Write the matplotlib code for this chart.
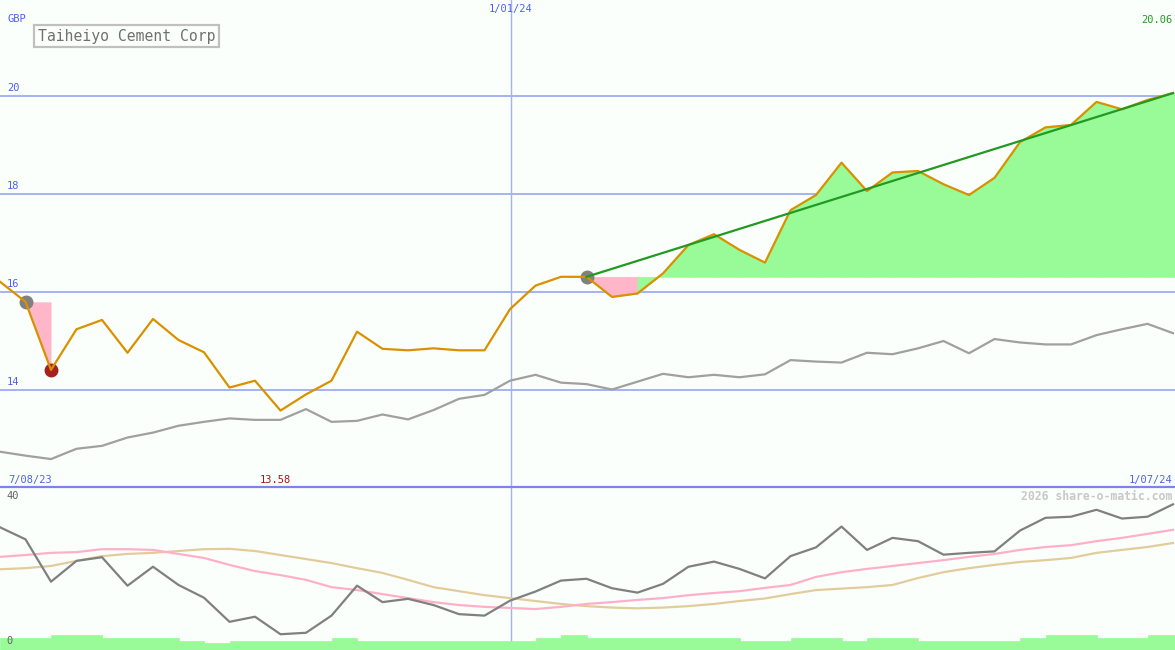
import matplotlib
matplotlib.use('Agg')
import matplotlib.pyplot as plt
from matplotlib.lines import Line2D
import numpy as np

# weekly closing price (GBP)
price = [16.21, 15.80, 14.41, 15.24, 15.43, 14.76, 15.45, 15.02, 14.77, 14.05,
         14.19, 13.58, 13.91, 14.19, 15.19, 14.84, 14.81, 14.85, 14.81, 14.81,
         15.65, 16.13, 16.31, 16.31, 15.90, 15.97, 16.38, 16.96, 17.18, 16.86,
         16.60, 17.67, 17.98, 18.64, 18.06, 18.44, 18.47, 18.20, 17.98, 18.33,
         19.06, 19.36, 19.41, 19.88, 19.73, 19.92, 20.06]
# slow average of the price (grey line, upper panel)
price_avg = [12.74, 12.66, 12.59, 12.80, 12.86, 13.03, 13.13, 13.27, 13.35, 13.42,
             13.39, 13.39, 13.61, 13.35, 13.37, 13.50, 13.40, 13.59, 13.82, 13.90,
             14.19, 14.31, 14.15, 14.12, 14.01, 14.17, 14.33, 14.26, 14.31, 14.26,
             14.32, 14.61, 14.58, 14.56, 14.76, 14.73, 14.85, 15.00, 14.75, 15.04,
             14.97, 14.93, 14.93, 15.12, 15.24, 15.35, 15.16]
# oscillator (lower panel)
osc = [32.8, 29.5, 17.9, 23.6, 24.6, 16.8, 22.0, 17.0, 13.5, 6.9,
       8.3, 3.5, 3.9, 8.6, 16.8, 12.3, 13.2, 11.5, 9.0, 8.6,
       12.7, 15.2, 18.2, 18.7, 16.1, 14.9, 17.3, 22.0, 23.4, 21.4,
       18.8, 24.9, 27.3, 33.0, 26.6, 29.9, 29.0, 25.3, 25.8, 26.2,
       31.9, 35.4, 35.7, 37.6, 35.2, 35.7, 39.1]
osc_fast = [24.7, 25.2, 25.8, 26.0, 26.8, 26.8, 26.6, 25.5, 24.4, 22.5,
            20.8, 19.7, 18.4, 16.4, 15.6, 14.5, 13.4, 12.3, 11.5, 11.0,
            10.7, 10.4, 11.0, 11.8, 12.3, 12.9, 13.4, 14.2, 14.8, 15.3,
            16.2, 17.0, 19.2, 20.5, 21.4, 22.2, 23.0, 23.8, 24.7, 25.5,
            26.6, 27.4, 27.9, 29.0, 29.9, 31.0, 32.1]
osc_slow = [21.3, 21.6, 22.2, 23.6, 24.9, 25.5, 25.8, 26.3, 26.8, 26.9,
            26.3, 25.2, 24.1, 23.0, 21.6, 20.3, 18.4, 16.4, 15.3, 14.2,
            13.4, 12.6, 11.8, 11.2, 10.8, 10.6, 10.8, 11.2, 11.8, 12.6,
            13.3, 14.5, 15.6, 16.0, 16.4, 17.0, 18.9, 20.5, 21.6, 22.5,
            23.3, 23.8, 24.4, 25.8, 26.6, 27.4, 28.5]
volume = [12.3, 12.3, 15, 15, 12.3, 12.3, 12.3, 9, 6.7, 9,
          9, 9, 9, 12.3, 9, 9, 9, 9, 9, 9,
          9, 12.3, 15, 12.3, 12.3, 12.3, 12.3, 12.3, 12.3, 9,
          9, 12.3, 12.3, 9, 12.3, 12.3, 9, 9, 9, 9,
          12.3, 15, 15, 12.3, 12.3, 15, 15]

price_ticks = [20, 18, 16, 14]
company = 'Taiheiyo Cement Corp'
start_label, mid_label, end_label = '7/08/23', '1/01/24', '1/07/24'
mid_week = 20.04
low_idx, drop_idx, base_idx = 11, 2, 23

bg = '#fbfffb'
green = '#98fb98'
pink = '#ffb6c8'
mono = 'DejaVu Sans Mono'

W, H = 1175, 650
fig = plt.figure(figsize=(W / 100, H / 100), dpi=100, facecolor=bg)
split = 487
ax = fig.add_axes([0, (H - split) / H, 1, split / H])
axl = fig.add_axes([0, 0, 1, (H - split) / H])
x = np.arange(len(price))
xmax = W / 25.5

# ---- upper panel
ax.set_xlim(0, xmax)
ax.set_ylim(12.02, 21.96)
ax.axis('off')
for t in price_ticks:
    ax.axhline(t, color='#a4b2f2', lw=1.4, zorder=1)
    ax.text(0.006, t + 0.06, str(t), transform=ax.get_yaxis_transform(),
            fontsize=7.5, family=mono, color='#5060f0', va='bottom')
ax.axvline(mid_week, color='#a8b0e4', lw=1, zorder=1)

# drop after the first marker
ax.fill_between(x[1:3], price[1:3], price[1], color=pink, lw=0, zorder=2)
# fills relative to the base marker (no seams: edge drawn in the fill colour)
ref = price[base_idx]
for i in range(base_idx, len(price) - 1):
    c = green if price[i + 1] >= ref else pink
    ax.fill_between(x[i:i + 2], price[i:i + 2], ref, fc=c, ec=c, lw=0.5, zorder=2)
ax.fill_between([x[-1], xmax], [price[-1]] * 2, ref, fc=green, ec=green, lw=0.5, zorder=2)

ax.plot(x, price_avg, color='#a0a0a0', lw=1.6, zorder=3)
ax.plot([1, base_idx], [price[1], price[base_idx]], 'o', ms=9, color='#808080', zorder=3)
ax.plot([drop_idx], [price[drop_idx]], 'o', ms=9, color='#a52020', zorder=3)
ax.plot(x, price, color='#d99100', lw=1.6, zorder=4)
ax.plot([base_idx, x[-1]], [price[base_idx], price[-1]], color='#229922', lw=1.6, zorder=5)

# ---- lower panel
axl.set_xlim(0, xmax)
axl.set_ylim(-0.82, 43.84)
axl.axis('off')
axl.axvline(mid_week, color='#a8b0e4', lw=1, zorder=1)
axl.plot(x, osc_slow, color='#e3cc9c', lw=1.6, zorder=2)
axl.plot(x, osc_fast, color='#ffb0c8', lw=1.6, zorder=2)
axl.plot(x, osc, color='#808080', lw=1.6, zorder=3)
axv = axl.twinx()
axv.set_ylim(0, H - split)
axv.axis('off')
axv.bar(x, volume, width=1, align='edge', fc=green, ec=green, lw=0.5)

fig.add_artist(Line2D([0, 1], [(H - split) / H] * 2, color='#7c84ec', lw=1.6))


def label(px, py, s, **kw):
    fig.text(px / W, 1 - py / H, s, family=mono, va='center', **kw)


label(7, 19, 'GBP', fontsize=7.5, color='#5060f0')
label(511, 9, mid_label, fontsize=7.5, color='#5060f0', ha='center')
label(1172, 20, '%.2f' % price[-1], fontsize=7.5, color='#229922', ha='right')
label(38, 36, company, fontsize=10.6, color='#707070',
      bbox=dict(boxstyle='square,pad=0.25', fc=bg, ec='#c0c0c0', lw=1.6))
label(8, 480, start_label, fontsize=7.5, color='#5060f0')
label(275, 480, '%.2f' % price[low_idx], fontsize=7.5, color='#a01818', ha='center')
label(1172, 480, end_label, fontsize=7.5, color='#5060f0', ha='right')
label(6, 496, '40', fontsize=7.5, color='#606060')
label(6, 641, '0', fontsize=7.5, color='#606060')
label(1172, 496, '2026 share-o-matic.com', fontsize=8.3, color='#c8c8c8',
      ha='right', fontweight='bold')

fig.savefig('out.png', dpi=100, facecolor=bg)
